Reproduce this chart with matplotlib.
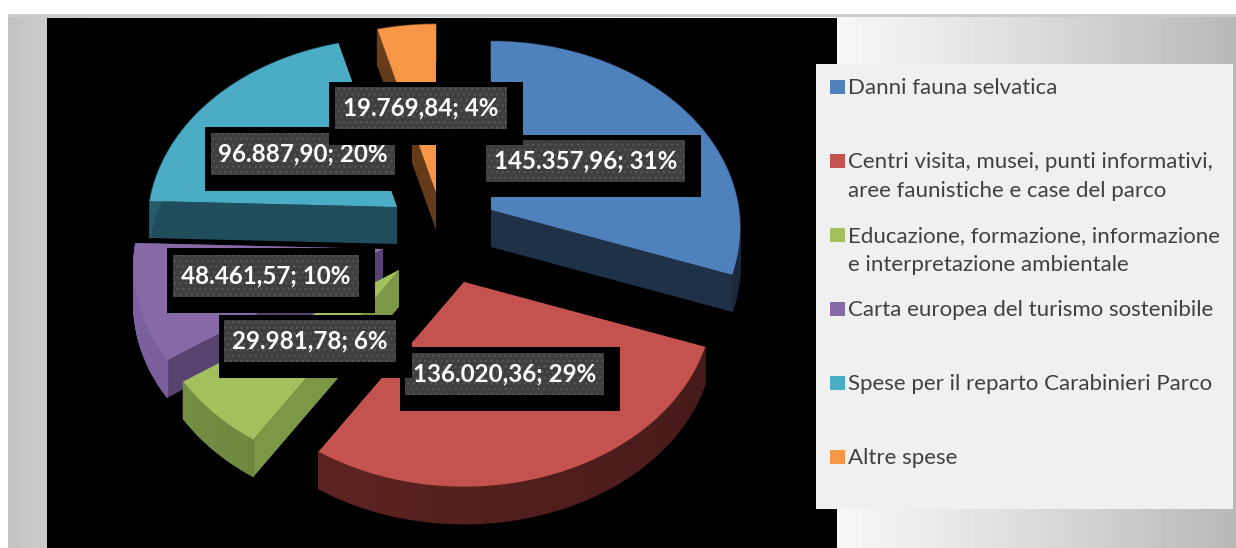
import numpy as np
import matplotlib
matplotlib.use("Agg")
import matplotlib.pyplot as plt
from matplotlib.patches import Rectangle, Polygon

plt.rcParams["font.family"] = ["Lato", "DejaVu Sans"]
plt.rcParams["hatch.linewidth"] = 1.0

categories = [
    "Danni fauna selvatica",
    "Centri visita, musei, punti informativi,\naree faunistiche e case del parco",
    "Educazione, formazione, informazione\ne interpretazione ambientale",
    "Carta europea del turismo sostenibile",
    "Spese per il reparto Carabinieri Parco",
    "Altre spese",
]
values = [145357.96, 136020.36, 29981.78, 48461.57, 96887.90, 19769.84]
top_colors = ["#4f81bd", "#c4524f", "#a2c05c", "#8769a8", "#4bacc6", "#f79646"]
outer_colors = ["#1f3149", "#55201e", "#647c3a", "#6a5288", "#204d5b", "#643b1a"]
radial_colors = ["#1f3149", "#55201e", "#7c9746", "#58426f", "#204d5b", "#643b1a"]

# where each slice tip ends up after the explosion, in pixels
tip_x = [491, 464, 399, 383, 397, 436]
tip_y = [210, 282, 270, 249, 207, 193]
# label boxes: dark box and the black frame round it (left, right, top, bottom)
label_box = [(486, 685, 140, 182), (405, 604, 353, 395), (224, 396, 320, 362),
             (173, 359, 255, 297), (211, 395, 133, 175), (335, 507, 87, 129)]
label_frame = [(475, 701, 135, 197), (400, 620, 347, 411), (219, 412, 315, 378),
               (167, 375, 248, 313), (205, 412, 127, 191), (329, 523, 82, 145)]
legend_y = [87, 161, 235, 309, 383, 457]

RX, RY, PERSP, DEPTH = 248, 185, 0.096, 37


def project(theta, i):
    x, y = np.sin(theta), np.cos(theta)
    w = 1 + PERSP * y
    return tip_x[i] + RX * x / w, tip_y[i] - RY * y / w


def shade(color, f):
    rgb = np.array(matplotlib.colors.to_rgb(color)) * f
    return tuple(np.clip(rgb, 0, 1))


def draw_slice(ax, i, start, stop):
    theta = np.linspace(start, stop, 60)
    px, py = project(theta, i)
    # radial faces first, the top face hides whichever looks away
    for end in (0, -1):
        ax.add_patch(Polygon([(tip_x[i], tip_y[i]), (px[end], py[end]),
                              (px[end], py[end] + DEPTH), (tip_x[i], tip_y[i] + DEPTH)],
                             fc=radial_colors[i], ec="none", zorder=3))
    for k in range(len(theta) - 1):
        c = shade(outer_colors[i], 1.0 - 0.18 * np.sin(theta[k]))
        ax.add_patch(Polygon([(px[k], py[k]), (px[k + 1], py[k + 1]),
                              (px[k + 1], py[k + 1] + DEPTH), (px[k], py[k] + DEPTH)],
                             fc=c, ec=c, lw=1.0, zorder=3))
    ax.add_patch(Polygon(np.column_stack([np.r_[tip_x[i], px], np.r_[tip_y[i], py]]),
                         fc=top_colors[i], ec="none", zorder=3))


fig = plt.figure(figsize=(12.36, 5.48), dpi=100, facecolor="white")
ax = fig.add_axes([0, 0, 1, 1])
ax.axis("off")

# grey gradient behind everything
xs = np.arange(8, 1236)
grad = np.interp(xs, [8, 47, 838, 1000, 1236], [0.76, 0.80, 0.97, 0.88, 0.72])
ax.imshow(grad[None, :], cmap="gray", vmin=0, vmax=1, extent=(8, 1236, 548, 15), aspect="auto", zorder=1)
ax.set_xlim(0, 1236)
ax.set_ylim(548, 0)
ax.add_patch(Rectangle((8, 14), 1228, 3, fc="#cccccc", ec="none", zorder=1.5))
ax.add_patch(Rectangle((47, 18), 790, 530, fc="black", ec="none", zorder=2))

total = sum(values)
bounds = np.cumsum([0] + values) / total * 2 * np.pi
for i in [5, 3, 4, 2, 0, 1]:
    draw_slice(ax, i, bounds[i], bounds[i + 1])

for i, v in enumerate(values):
    pct = round(100 * v / total)
    txt = f"{v:,.2f}".replace(",", "#").replace(".", ",").replace("#", ".") + f"; {pct}%"
    l, r, t, b = label_frame[i]
    ax.add_patch(Rectangle((l, t), r - l, b - t, fc="black", ec="none", zorder=4 + i * 0.1))
    l, r, t, b = label_box[i]
    ax.add_patch(Rectangle((l, t), r - l, b - t, fc="#3f3f3f", ec="#555555", lw=0, hatch="...",
                           zorder=4 + i * 0.1))
    ax.text((l + r) / 2, (t + b) / 2, txt, color="white", fontsize=17.4, fontweight="bold",
            ha="center", va="center", zorder=4.05 + i * 0.1)

ax.add_patch(Rectangle((816, 64), 417, 445, fc="#f0f0f0", ec="none", zorder=5))
for i, name in enumerate(categories):
    ax.add_patch(Rectangle((830, legend_y[i] - 7), 15, 14, fc=top_colors[i], ec="none", zorder=6))
    ax.text(848, legend_y[i] - 9, name, color="#404040", fontsize=16, linespacing=1.55,
            ha="left", va="top", zorder=6)

fig.savefig("out.png", dpi=100, facecolor="white")
